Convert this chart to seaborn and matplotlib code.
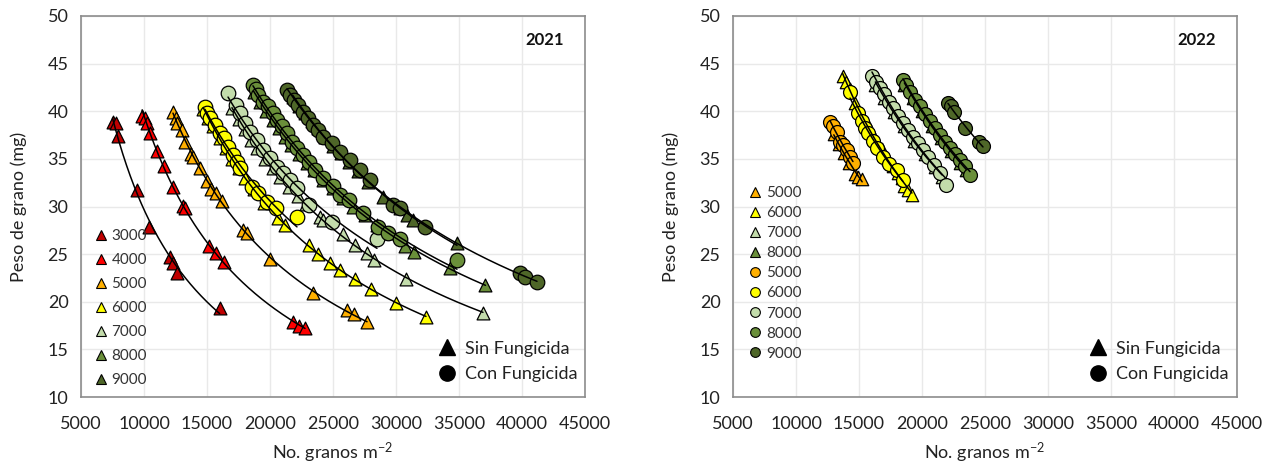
import numpy as np
import pandas as pd
import matplotlib
matplotlib.use("Agg")
import matplotlib.pyplot as plt
from matplotlib.lines import Line2D
import seaborn as sns

sns.set_theme(style="white")
plt.rcParams["font.family"] = ["Lato", "DejaVu Sans"]
plt.rcParams["mathtext.fontset"] = "custom"
plt.rcParams["mathtext.rm"] = "Lato"
plt.rcParams["mathtext.it"] = "Lato:italic"

# ---------------- 2021 ----------------
# Sin fungicida (triangles)
x21_sin_3000 = [7500, 7800, 7900, 9450, 10400, 12100, 12300, 12600, 16000]
y21_sin_3000 = [38.9, 38.8, 37.4, 31.7, 27.9, 24.7, 24.1, 23.0, 19.3]
x21_sin_4000 = [9850, 10080, 10240, 10480, 11030, 11590, 12300, 13100, 13250,
                15160, 15720, 16350, 21830, 22300, 22780]
y21_sin_4000 = [39.5, 39.3, 38.8, 37.7, 35.8, 34.3, 32.0, 30.1, 29.8,
                25.9, 25.1, 24.2, 17.9, 17.5, 17.2]
x21_sin_5000 = [12300, 12500, 12650, 13000, 13250, 13700, 13900, 14450, 15000, 15350,
                15700, 16200, 17850, 18150, 20000, 23400, 26100, 26700, 27700]
y21_sin_5000 = [39.9, 39.3, 38.8, 38.0, 36.8, 35.5, 35.2, 34.0, 32.7, 31.8,
                31.4, 30.6, 27.5, 27.2, 24.5, 20.9, 19.1, 18.7, 17.9]
x21_sin_6000 = [14700, 15100, 15500, 16000, 16500, 17000, 17500, 18000, 18700, 19500,
                20640, 21190, 23100, 23810, 24760, 25560, 26750, 28020, 30000, 32380]
y21_sin_6000 = [40.2, 39.3, 38.4, 37.2, 36.1, 35.0, 34.0, 33.0, 31.8, 30.4,
                28.8, 28.1, 26.0, 25.0, 24.1, 23.3, 22.4, 21.3, 19.9, 18.4]
x21_sin_7000 = [16980, 17500, 18000, 18500, 19000, 19600, 20200, 20800, 21500, 22200,
                22860, 23970, 24210, 25800, 26750, 27700, 28250, 30800, 36900]
y21_sin_7000 = [40.3, 39.2, 38.1, 37.0, 36.1, 35.0, 34.0, 33.1, 32.0, 31.1,
                30.3, 28.9, 28.6, 27.1, 26.0, 25.1, 24.4, 22.4, 18.8]
x21_sin_8000 = [18700, 19200, 19700, 20200, 20700, 21200, 21700, 22300, 22900, 23500, 24200,
                25000, 25800, 26600, 27500, 28500, 29500, 30700, 31400, 34300, 37100]
y21_sin_8000 = [42.0, 41.0, 40.0, 39.1, 38.2, 37.3, 36.5, 35.5, 34.6, 33.8, 32.8,
                31.9, 30.9, 30.0, 29.1, 28.1, 27.2, 25.9, 25.2, 23.5, 21.8]
x21_sin_9000 = [21800, 22300, 22800, 23300, 23800, 24400, 25000, 25600, 26300, 27000,
                27800, 28970, 30300, 30870, 31350, 34840]
y21_sin_9000 = [41.5, 40.6, 39.8, 39.0, 38.2, 37.3, 36.4, 35.6, 34.7, 33.7,
                32.6, 31.0, 29.8, 29.1, 28.6, 26.2]
# Con fungicida (circles)
x21_con_6000 = [14840, 15000, 15240, 15640, 16030, 16350, 16670, 17060, 17380, 17620,
                18570, 19050, 19760, 20480, 22140]
y21_con_6000 = [40.4, 39.8, 39.3, 38.6, 37.7, 37.2, 36.2, 35.4, 34.7, 34.0,
                32.0, 31.4, 30.5, 29.8, 28.9]
x21_con_7000 = [16670, 17300, 17620, 18020, 18410, 18970, 19450, 20000, 20560, 21030,
                21590, 22140, 23100, 24920, 28490]
y21_con_7000 = [41.9, 40.7, 39.8, 38.8, 37.8, 37.0, 35.9, 35.1, 34.1, 33.5,
                32.8, 31.9, 30.2, 28.4, 26.6]
x21_con_8000 = [18650, 18890, 19050, 19450, 19840, 20240, 20560, 20950, 21350, 21750, 22140, 22620,
                23100, 23570, 24210, 25000, 25560, 26270, 27380, 28570, 29370, 30320, 34840]
y21_con_8000 = [42.8, 42.3, 41.7, 41.0, 40.5, 39.8, 39.1, 38.4, 37.7, 36.8, 36.1, 35.4,
                34.7, 33.8, 33.0, 32.1, 31.2, 30.7, 29.3, 27.8, 27.2, 26.6, 24.4]
x21_con_9000 = [21350, 21590, 21900, 22220, 22620, 23020, 23410, 23810, 24210, 24920,
                25560, 26350, 27140, 27940, 29760, 30320, 32300, 39840, 40240, 41190]
y21_con_9000 = [42.2, 41.7, 41.2, 40.7, 39.9, 39.3, 38.6, 38.0, 37.3, 36.7,
                35.7, 34.9, 33.8, 32.8, 30.2, 29.8, 27.9, 23.0, 22.6, 22.1]

# ---------------- 2022 ----------------
x22_sin_5000 = [13000, 13400, 13800, 14200, 14700, 14950, 15250]
y22_sin_5000 = [37.6, 36.6, 35.6, 34.6, 33.4, 33.1, 32.9]
x22_sin_6000 = [13700, 13950, 14250, 14700, 15300, 15800, 16300, 16800, 17300, 17700,
                18100, 18400, 18600, 18850, 19200]
y22_sin_6000 = [43.7, 43.1, 42.3, 40.9, 39.4, 38.3, 37.1, 36.0, 35.0, 34.2,
                33.5, 33.0, 32.2, 31.7, 31.2]
x22_sin_7000 = [16300, 17000, 17800, 18600, 19400, 20200, 21000, 21600]
y22_sin_7000 = [42.8, 41.4, 39.9, 38.4, 36.9, 35.5, 34.1, 33.1]
x22_sin_8000 = [18600, 19300, 20000, 20800, 21500, 22300, 23000, 23500]
y22_sin_8000 = [42.8, 41.4, 40.0, 38.5, 37.2, 35.8, 34.6, 33.8]
x22_con_5000 = [12700, 12940, 13250, 13490, 13730, 14050, 14290, 14520]
y22_con_5000 = [38.9, 38.4, 37.8, 36.8, 36.5, 35.9, 35.2, 34.6]
x22_con_6000 = [14290, 14920, 15240, 15480, 15720, 16100, 16430, 16900, 17400, 18020, 18490]
y22_con_6000 = [42.0, 39.8, 39.0, 38.2, 37.7, 36.9, 36.1, 35.2, 34.5, 33.8, 32.8]
x22_con_7000 = [16030, 16350, 16670, 16980, 17380, 17700, 18100, 18490, 18890, 19290,
                19680, 20080, 20480, 20950, 21430, 21910]
y22_con_7000 = [43.7, 43.1, 42.4, 41.8, 41.0, 40.3, 39.5, 38.8, 38.0, 37.3,
                36.7, 35.9, 35.2, 34.4, 33.5, 32.3]
x22_con_8000 = [18490, 18730, 19050, 19450, 19840, 20240, 20640, 21030, 21430, 21830,
                22220, 22620, 23020, 23410, 23810]
y22_con_8000 = [43.3, 42.8, 42.0, 41.2, 40.5, 39.7, 39.0, 38.2, 37.5, 36.8,
                36.1, 35.5, 34.9, 34.3, 33.3]
x22_con_9000 = [22060, 22300, 22540, 23410, 24530, 24840]
y22_con_9000 = [40.9, 40.5, 39.9, 38.2, 36.8, 36.3]

colors = {
    "3000": "#C00000", "4000": "#FF0000", "5000": "#FFB000", "6000": "#FFFF00",
    "7000": "#C3DCAB", "8000": "#6A8F3A", "9000": "#4E6628",
}

series_2021 = [
    ("Sin", "3000", x21_sin_3000, y21_sin_3000), ("Sin", "4000", x21_sin_4000, y21_sin_4000),
    ("Sin", "5000", x21_sin_5000, y21_sin_5000), ("Sin", "6000", x21_sin_6000, y21_sin_6000),
    ("Sin", "7000", x21_sin_7000, y21_sin_7000), ("Sin", "8000", x21_sin_8000, y21_sin_8000),
    ("Sin", "9000", x21_sin_9000, y21_sin_9000),
    ("Con", "6000", x21_con_6000, y21_con_6000), ("Con", "7000", x21_con_7000, y21_con_7000),
    ("Con", "8000", x21_con_8000, y21_con_8000), ("Con", "9000", x21_con_9000, y21_con_9000),
]
series_2022 = [
    ("Sin", "5000", x22_sin_5000, y22_sin_5000), ("Sin", "6000", x22_sin_6000, y22_sin_6000),
    ("Sin", "7000", x22_sin_7000, y22_sin_7000), ("Sin", "8000", x22_sin_8000, y22_sin_8000),
    ("Con", "5000", x22_con_5000, y22_con_5000), ("Con", "6000", x22_con_6000, y22_con_6000),
    ("Con", "7000", x22_con_7000, y22_con_7000), ("Con", "8000", x22_con_8000, y22_con_8000),
    ("Con", "9000", x22_con_9000, y22_con_9000),
]

fig = plt.figure(figsize=(12.77, 4.74), dpi=100)
ax1 = fig.add_axes([81 / 1277, 77 / 474, 504 / 1277, 381 / 474])
ax2 = fig.add_axes([733 / 1277, 77 / 474, 504 / 1277, 381 / 474])

GRID = "#E9E9E9"
SPINE = "#8C8C8C"
markers = {"Sin": "^", "Con": "o"}


def draw_panel(ax, series, sizes, year):
    for trat, dens, xs, ys in series:
        df = pd.DataFrame({"x": xs, "y": ys})
        sns.scatterplot(data=df, x="x", y="y", ax=ax, marker=markers[trat],
                        s=sizes[trat], color=colors[dens], edgecolor="black",
                        linewidth=0.9, zorder=3, legend=False)
    # power trendline for every series
    for trat, dens, xs, ys in series:
        xa, ya = np.asarray(xs, float), np.asarray(ys, float)
        b, lna = np.polyfit(np.log(xa), np.log(ya), 1)
        xf = np.linspace(xa.min(), xa.max(), 200)
        ax.plot(xf, np.exp(lna) * xf ** b, color="black", lw=1.1, zorder=4)

    ax.set_xlim(5000, 45000)
    ax.set_ylim(10, 50)
    ax.set_xticks(np.arange(5000, 45001, 5000))
    ax.set_yticks(np.arange(10, 51, 5))
    ax.grid(True, color=GRID, lw=1.0)
    ax.set_axisbelow(True)
    for sp in ax.spines.values():
        sp.set_visible(True)
        sp.set_color(SPINE)
        sp.set_linewidth(1.2)
    ax.tick_params(axis="both", direction="out", length=6, width=1.0, color=SPINE,
                   labelsize=13, labelcolor="#222222", pad=3)
    ax.tick_params(axis="x", pad=8)
    ax.set_xlabel("No. granos m$^{-2}$", fontsize=13, color="#222222", labelpad=6)
    ax.set_ylabel("Peso de grano (mg)", fontsize=13, color="#222222", labelpad=15)
    ax.text(0.958, 0.937, year, transform=ax.transAxes, ha="right", va="center",
            fontsize=12, fontweight="bold", color="#111111")


draw_panel(ax1, series_2021, {"Sin": 85, "Con": 110}, "2021")
draw_panel(ax2, series_2022, {"Sin": 80, "Con": 100}, "2022")


def density_legend(ax, entries, anchor, spacing):
    handles = [Line2D([], [], ls="none", marker=markers[t], markersize=7,
                      markerfacecolor=colors[d], markeredgecolor="black",
                      markeredgewidth=0.8) for t, d in entries]
    labels = [d for _, d in entries]
    leg = ax.legend(handles, labels, loc="upper left", bbox_to_anchor=anchor,
                    frameon=False, fontsize=11, labelspacing=spacing,
                    handlelength=0.8, handletextpad=0.3, borderpad=0,
                    borderaxespad=0, labelcolor="#333333")
    ax.add_artist(leg)


def treatment_legend(ax, anchor):
    handles = [Line2D([], [], ls="none", marker="^", markersize=11, color="black"),
               Line2D([], [], ls="none", marker="o", markersize=11, color="black")]
    ax.legend(handles, ["Sin Fungicida", "Con Fungicida"], loc="upper left",
              bbox_to_anchor=anchor, frameon=False, fontsize=13,
              labelspacing=0.53, handlelength=1.0, handletextpad=0.5,
              borderpad=0, borderaxespad=0, labelcolor="#222222")


density_legend(ax1, [("Sin", d) for d in ["3000", "4000", "5000", "6000", "7000", "8000", "9000"]],
               (0.027, 0.441), 0.66)
density_legend(ax2, [("Sin", d) for d in ["5000", "6000", "7000", "8000"]] +
               [("Con", d) for d in ["5000", "6000", "7000", "8000", "9000"]],
               (0.032, 0.554), 0.40)
treatment_legend(ax1, (0.708, 0.148))
treatment_legend(ax2, (0.706, 0.148))

fig.savefig("out.png", dpi=100)
